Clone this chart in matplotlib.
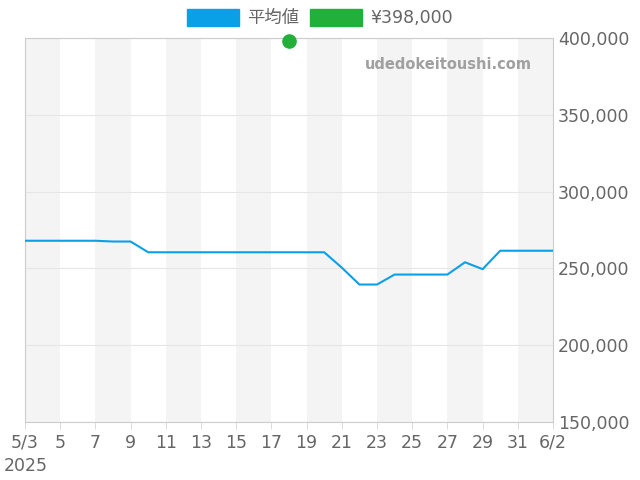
import matplotlib.pyplot as plt
from matplotlib.ticker import FuncFormatter
from matplotlib.patches import Patch

# days since 5/3 (0 .. 30 = 6/2)
days = list(range(31))
avg = [268000, 268000, 268000, 268000, 268000, 267500, 267500, 260500, 260500, 260500,
       260500, 260500, 260500, 260500, 260500, 260500, 260500, 260500, 250500, 239500,
       239500, 246000, 246000, 246000, 246000, 254000, 249500, 261500, 261500, 261500,
       261500]
offer_day = [15]
offer_price = [398000]
tick_days = list(range(0, 31, 2))
tick_labels = ['5/3', '5', '7', '9', '11', '13', '15', '17', '19', '21', '23', '25',
               '27', '29', '31', '6/2']

fig = plt.figure(figsize=(6.4, 4.8), dpi=100)
ax = fig.add_axes([25/640, 1-422/480, 528/640, 384/480])
for s in range(0, 30, 4):
    ax.axvspan(s, s+2, color='#f4f4f4', lw=0, zorder=0)
ax.plot(days, avg, color='#0aa0e6', lw=1.5, zorder=3)
ax.scatter(offer_day, offer_price, color='#22b03a', s=90, zorder=4, clip_on=False)
ax.set_xlim(0, 30)
ax.set_ylim(150000, 400000)
ax.set_yticks(range(150000, 400001, 50000))
ax.yaxis.set_major_formatter(FuncFormatter(lambda v, p: f'{int(v):,}'))
ax.yaxis.tick_right()
ax.grid(axis='y', color='#e6e6e6', lw=0.8)
ax.set_xticks(tick_days)
ax.set_xticklabels(tick_labels)
ax.tick_params(colors='#666666', labelsize=12.5, length=5, width=0.5)
ax.tick_params(axis='y', length=0)
ax.tick_params(axis='x', color='#cccccc')
for sp in ax.spines.values():
    sp.set_color('#cccccc')
fig.text(4/640, 1-466/480, '2025', color='#666666', fontsize=12.5, va='center')
ax.text(0.96, 0.93, 'udedokeitoushi.com', transform=ax.transAxes, ha='right', va='center',
        color='#a0a0a0', fontsize=10.5, fontweight='bold')
handles = [Patch(color='#0aa0e6', label='平均値'), Patch(color='#22b03a', label='¥398,000')]
leg = fig.legend(handles=handles, loc='center', bbox_to_anchor=(0.5, 1-18/480), ncol=2,
                 frameon=False, handlelength=3.0, handleheight=1.2,
                 columnspacing=0.6, handletextpad=0.5,
                 prop={'family': ['DejaVu Sans', 'Noto Sans CJK JP'], 'size': 12.5})
for t in leg.get_texts():
    t.set_color('#666666')
fig.savefig('out.png')
